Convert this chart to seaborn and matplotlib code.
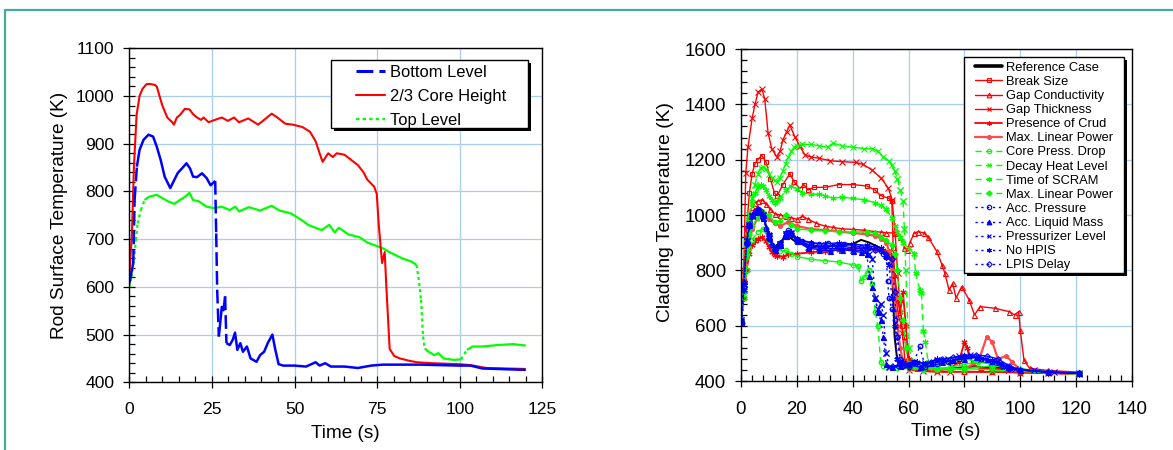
import numpy as np
import pandas as pd
import matplotlib
matplotlib.use("Agg")
import matplotlib.pyplot as plt
import seaborn as sns
from matplotlib.lines import Line2D
from matplotlib.patches import Rectangle
from matplotlib.ticker import MultipleLocator

# ---------------- left panel data ----------------
left_labels = ["Bottom Level", "2/3 Core Height", "Top Level"]

bot_t = [0, 1.2, 1.6, 2.3, 3.1, 4.3, 5.8, 7.2, 8.3, 9.5, 10.7, 12.4, 13.6, 14.7, 15.9, 17.3, 18.4, 19.3,
         20.5, 22, 23.4, 24.6, 25.4, 26, 26.3, 26.6, 27.1, 27.6, 28, 28.5, 29, 29.4, 30.4, 31.3, 32, 32.7,
         33.6, 34.4, 35.6, 36.7, 38.5, 39.6, 40.8, 41.9, 43.3, 44.2, 45.2, 46.6, 50, 53.5, 56.4, 57.6, 59.3,
         61, 65.1, 69.2, 73.2, 76.7, 88.3, 99.9, 103.3, 106.8, 120]
bot_v = [607, 650, 782, 852, 887, 908, 919, 915, 894, 866, 831, 807, 824, 839, 848, 859, 848, 831,
         830, 838, 828, 813, 818, 822, 712, 594, 496, 530, 558, 551, 580, 482, 478, 489, 504, 468,
         482, 464, 475, 450, 443, 457, 464, 482, 500, 468, 438, 435, 435, 433, 442, 435, 440,
         433, 433, 430, 435, 437, 437, 435, 435, 429, 426]

mid_t = [0, 0.8, 1.4, 2.2, 3.1, 4, 5.2, 6.5, 7.8, 8.3, 10, 11.5, 13, 13.5, 14.4, 15.3, 16.8, 18.2, 19.3,
         20.5, 21.7, 22.5, 24, 25.1, 28, 29.8, 31.7, 33.2, 36, 39, 40.8, 43.1, 44.8, 47.2, 49.5, 52.4,
         54.7, 56.4, 57.6, 58.5, 60.2, 61.6, 62.8, 65.1, 66.8, 69.2, 70.9, 72, 74.1, 74.9, 75.5, 76.5,
         77.3, 77.8, 78.8, 80.2, 81.9, 84.8, 87.1, 91.8, 99.9, 103.3, 108, 120]
mid_v = [621, 712, 852, 960, 1000, 1015, 1025, 1025, 1023, 1020, 980, 955, 945, 940, 955, 960, 973, 972, 962,
         955, 950, 955, 945, 948, 955, 948, 955, 945, 953, 940, 950, 963, 955, 942, 940, 935,
         925, 905, 880, 862, 880, 872, 880, 877, 868, 855, 840, 825, 810, 795, 730, 650,
         673, 600, 470, 455, 450, 445, 442, 440, 438, 436, 430, 428]

top_t = [0, 0.7, 1.4, 2, 2.5, 3.5, 4.6, 6, 8.3, 10, 11.8, 13.6, 15.3, 16.7, 18.2, 19.3, 21.1, 23.4, 25.7,
         28, 30.4, 32.1, 33.2, 36.1, 39.6, 43.1, 45.4, 48.9, 52.4, 54.1, 58.2, 60.5, 62.2, 63.4, 66.3,
         69.7, 72, 76.7, 79, 82.5, 85.4, 86.9, 87.5, 88.3, 88.9, 89.4, 90.6, 92.3, 93.5, 95.2, 98.1,
         100.4, 102.2, 103.9, 106.8, 111.4, 116.1, 120]
top_v = [600, 621, 656, 698, 733, 761, 782, 789, 793, 786, 779, 774, 782, 788, 797, 782, 779, 768, 765,
         768, 761, 768, 758, 767, 760, 770, 760, 754, 739, 730, 719, 730, 714, 724, 710,
         704, 693, 681, 672, 660, 653, 646, 621, 573, 496, 471, 464, 457, 461, 450, 447,
         448, 468, 475, 475, 478, 480, 477]

# ---------------- right panel data ----------------
right_labels = ["Reference Case", "Break Size", "Gap Conductivity", "Gap Thickness", "Presence of Crud",
                "Max. Linear Power", "Core Press. Drop", "Decay Heat Level", "Time of SCRAM",
                "Max. Linear Power", "Acc. Pressure", "Acc. Liquid Mass", "Pressurizer Level",
                "No HPIS", "LPIS Delay"]

ref_t = [0, 1, 2, 3, 4, 5, 6, 7, 8, 9, 10, 12, 14, 16, 18, 20, 25, 30, 35, 40, 43, 46, 49,
         51, 53, 54, 54.5, 55, 56, 58, 60, 65, 70, 80, 90, 100, 110, 121]
ref_v = [620, 720, 850, 940, 985, 1005, 1012, 1010, 995, 960, 920, 885, 900, 925, 915, 900, 890, 885, 890,
         895, 910, 900, 885, 875, 860, 820, 700, 560, 470, 450, 445, 440, 440, 450, 450, 440, 432, 428]

bs_t = [0, 1, 2, 3, 4, 5, 6, 7.5, 9, 10.5, 12, 13, 15, 17.5, 19, 21, 22.5, 24, 26, 30,
        35, 40, 45, 48, 50, 53, 54, 54.5, 55.5, 56.5, 57.5, 58.5, 60, 63, 70, 80, 90, 100, 110, 121]
bs_v = [620, 760, 950, 1080, 1150, 1185, 1200, 1215, 1190, 1130, 1080, 1070, 1110, 1150, 1120, 1095, 1110,
        1090, 1100, 1100, 1110, 1110, 1105, 1090, 1070, 1060, 1050, 880, 700, 630,
        600, 560, 470, 445, 435, 432, 432, 430, 428, 425]

gc_t = [0, 1, 2, 3, 4, 5, 6, 7.5, 9, 10.5, 12, 14, 16, 18, 20, 22, 24, 27, 30, 33,
        36, 40, 44, 48, 50, 52, 55, 57, 58.5, 59.5, 60.5, 62, 63.5, 65.5, 67, 70, 72, 73, 74.5, 75.8,
        77, 79, 81.7, 83.6, 85.6, 90.8, 96, 98, 99.4, 100, 101.3, 103.3, 110, 121]
gc_v = [620, 800, 930, 1000, 1030, 1045, 1050, 1055, 1040, 1020, 1005, 1000, 995, 990, 985, 995, 985, 970,
        960, 955, 950, 948, 945, 940, 938, 936, 935, 920, 880, 875, 900, 935, 940, 935, 920, 870, 820,
        789, 729, 753, 700, 741, 693, 639, 669, 663, 651, 639, 651, 584, 476, 446, 438, 432]

gt_t = [0, 1, 1.7, 2.5, 4, 5, 6.1, 7.5, 8.5, 9.7, 11, 12.8, 14, 15, 16.3, 17.5, 19.3, 21, 22.9, 25,
        28, 32, 36, 41, 43.6, 46.9, 50.2, 52.8, 54.1, 55.2, 56.1, 56.8, 57.8, 58.7, 60, 65, 70, 75, 80, 90,
        100, 110, 121]
gt_v = [620, 800, 1152, 1246, 1350, 1400, 1444, 1455, 1420, 1296, 1240, 1210, 1230, 1271, 1300, 1325, 1282,
        1250, 1217, 1210, 1205, 1196, 1193, 1190, 1183, 1163, 1133, 1096, 1054, 934, 789, 693, 572, 476,
        440, 435, 432, 432, 435, 433, 430, 428, 425]

pc_t = [0, 1, 2, 3, 4, 5, 6, 7.5, 9, 10, 11, 12, 13, 15, 17, 20, 25, 30, 35, 40,
        45, 48, 51, 53, 54, 55, 56, 57, 58, 59, 60, 62, 65, 70, 75, 78, 80, 81, 83, 86, 90, 95, 100, 110, 121]
pc_v = [620, 700, 800, 860, 890, 905, 915, 920, 905, 885, 865, 855, 852, 850, 858, 860, 865, 870, 875, 878,
        880, 878, 872, 868, 850, 780, 700, 650, 720, 600, 480, 450, 445, 440, 445, 470, 540, 520, 460, 445,
        445, 440, 435, 430, 425]

mr_t = [0, 2, 4, 6, 8, 10, 12, 14, 17, 20, 25, 30, 35, 40, 45, 48, 50, 52, 53, 54,
        55, 56, 57, 58, 60, 70, 80, 85, 88, 90, 92, 95, 97, 100, 110, 121]
mr_v = [620, 850, 950, 990, 1000, 985, 970, 960, 975, 960, 950, 945, 940, 935, 930, 925, 915, 900, 870, 800,
        700, 600, 520, 470, 450, 440, 445, 470, 560, 540, 480, 490, 470, 440, 430, 425]

cp_t = [0, 1, 2, 3, 4, 6, 8, 10, 12, 14, 16, 18, 20, 25, 30, 35, 40, 42, 43, 44,
        45, 46, 47, 48, 49, 50, 51, 53, 56, 60, 65, 70, 75, 80, 85, 90, 95, 100, 110, 121]
cp_v = [620, 700, 800, 880, 910, 940, 950, 910, 880, 870, 872, 860, 850, 840, 835, 830, 820, 815, 760, 775,
        790, 800, 750, 650, 600, 470, 455, 450, 448, 445, 440, 445, 450, 460, 470, 460, 450, 440, 432, 428]

dh_t = [0, 1, 2, 3, 4, 5, 6, 7, 8, 9, 10, 11, 12, 13, 14, 15, 16, 17, 18, 19,
        20, 22, 25, 28, 31, 33, 36, 40, 44, 47, 49, 51, 53, 54, 55, 56, 57, 58, 58.5, 59,
        60, 62, 65, 70, 80, 90, 100, 110, 121]
dh_v = [620, 750, 900, 1000, 1060, 1110, 1150, 1170, 1175, 1165, 1150, 1135, 1125, 1120, 1135, 1160, 1185,
        1210, 1230, 1245, 1250, 1255, 1255, 1250, 1245, 1260, 1250, 1245, 1240, 1240, 1230, 1210, 1195,
        1180, 1160, 1130, 1090, 1050, 950, 800, 520, 460, 450, 445, 445, 440, 435, 430, 425]

ts_t = [0, 1, 2, 3, 4, 5, 6, 7, 8, 9, 10, 11, 12, 13, 14, 16, 18, 20, 22, 25,
        28, 30, 33, 36, 40, 44, 48, 50, 52, 54, 55, 56, 57, 58, 60, 62, 62.5, 64, 64.6, 65.3,
        66, 67, 68, 70, 75, 80, 90, 100, 110, 121]
ts_v = [620, 720, 880, 980, 1040, 1080, 1100, 1110, 1105, 1090, 1070, 1055, 1045, 1050, 1060, 1090, 1105,
        1095, 1080, 1075, 1075, 1070, 1060, 1065, 1060, 1055, 1045, 1035, 1020, 990, 960, 940, 920, 900,
        880, 860, 790, 730, 717, 580, 540, 470, 450, 445, 440, 445, 455, 445, 432, 428]

mg_t = [0, 1, 2, 3, 4, 6, 8, 10, 12, 14, 16, 18, 20, 25, 30, 35, 40, 45, 48, 50,
        52, 54, 55, 56, 57, 58, 59, 60, 62, 65, 70, 75, 80, 85, 90, 100, 110, 121]
mg_v = [620, 720, 860, 930, 960, 990, 1010, 1000, 975, 980, 1000, 965, 950, 945, 942, 940, 938, 940, 935, 920,
        910, 890, 860, 800, 700, 620, 520, 460, 450, 445, 455, 470, 480, 470, 460, 440, 432, 428]

ap_t = [0, 0.5, 1, 2, 3, 4, 5, 6, 7, 8, 9, 10, 11, 12, 14, 16, 17, 18, 20, 22,
        25, 28, 31, 34, 37, 40, 43, 46, 48, 50, 51, 52, 52.5, 53, 54, 55, 56, 57, 58, 60,
        62, 64, 66, 70, 74, 78, 82, 86, 90, 93, 96, 100, 110, 121]
ap_v = [620, 610, 740, 900, 960, 995, 1015, 1020, 1015, 990, 950, 915, 890, 880, 900, 935, 945, 935, 915, 905,
        900, 895, 900, 890, 895, 890, 885, 880, 875, 870, 860, 850, 760, 700, 660, 620, 560, 480, 455, 450,
        470, 525, 450, 460, 470, 480, 490, 480, 470, 460, 445, 440, 432, 428]

al_t = [0, 1, 2, 3, 4, 5, 6, 7, 8, 10, 12, 14, 16, 18, 20, 24, 28, 32, 36, 40,
        43, 45, 46, 47, 48, 49, 50, 51, 52, 54, 57, 60, 64, 68, 72, 76, 80, 84, 88, 92, 96, 100, 110, 121]
al_v = [615, 760, 910, 970, 1000, 1010, 1015, 1010, 990, 920, 875, 890, 925, 930, 905, 880, 875, 870, 875, 870,
        865, 860, 780, 740, 700, 650, 620, 560, 460, 450, 455, 460, 450, 465, 470, 475, 480, 485, 480, 470,
        450, 440, 432, 428]

pl_t = [0, 1, 2, 3, 4, 6, 8, 10, 12, 14, 16, 18, 20, 24, 28, 32, 36, 40, 44, 46,
        47, 48, 49, 50, 51, 52, 53, 55, 58, 62, 66, 70, 74, 78, 82, 86, 90, 94, 98, 105, 112, 121]
pl_v = [620, 750, 905, 965, 995, 1015, 1000, 925, 885, 895, 930, 935, 910, 885, 880, 878, 880, 875, 870, 860,
        840, 700, 660, 680, 640, 500, 450, 455, 460, 470, 465, 475, 480, 490, 495, 480, 470, 455, 445, 438,
        432, 428]

nh_t = [0, 1, 2, 3, 4, 6, 8, 10, 12, 14, 16, 18, 20, 25, 30, 35, 40, 45, 48, 50,
        52, 53, 54, 55, 56, 57, 58, 60, 63, 66, 70, 75, 80, 85, 90, 95, 100, 110, 121]
nh_v = [620, 730, 900, 965, 1000, 1020, 1005, 930, 880, 900, 930, 940, 915, 900, 895, 900, 895, 890, 885, 880,
        850, 820, 700, 600, 480, 460, 470, 455, 470, 460, 480, 470, 490, 485, 475, 450, 440, 432, 428]

ld_t = [0, 1, 2, 3, 4, 6, 8, 10, 12, 14, 16, 18, 20, 25, 30, 35, 40, 45, 48, 50,
        52, 54, 55, 56, 57, 58, 60, 62, 65, 68, 72, 76, 80, 84, 88, 92, 96, 100, 110, 121]
ld_v = [620, 740, 895, 960, 995, 1012, 995, 925, 875, 890, 925, 935, 910, 890, 885, 888, 882, 878, 875, 870,
        860, 840, 720, 560, 470, 455, 450, 465, 455, 470, 480, 485, 490, 495, 490, 480, 455, 440, 432, 428]

right_t = [ref_t, bs_t, gc_t, gt_t, pc_t, mr_t, cp_t, dh_t, ts_t, mg_t, ap_t, al_t, pl_t, nh_t, ld_t]
right_v = [ref_v, bs_v, gc_v, gt_v, pc_v, mr_v, cp_v, dh_v, ts_v, mg_v, ap_v, al_v, pl_v, nh_v, ld_v]

# ---------------- styling ----------------
RED, GREEN, BLUE = "#ff0000", "#00ff00", "#0000ff"
GRID = "#a9cdf2"
ASTER = (6, 2, 0)
GDASH = (0, (4.5, 3.0))
BDOT = (0, (1.6, 2.6))
# color, lw, dash, marker, markersize, filled
right_styles = [
    ("black", 1.4, None, None, 0, True),
    (RED, 1.0, None, "s", 3.4, False),
    (RED, 1.0, None, "^", 3.6, False),
    (RED, 1.0, None, "x", 4.0, True),
    (RED, 1.3, None, ASTER, 4.4, True),
    ("#ff4a4a", 1.6, None, "o", 2.8, True),
    (GREEN, 1.0, GDASH, "o", 3.2, False),
    (GREEN, 1.0, GDASH, "x", 4.0, True),
    (GREEN, 1.0, GDASH, ASTER, 4.4, True),
    (GREEN, 1.0, GDASH, "P", 3.4, True),
    (BLUE, 1.0, BDOT, "o", 3.2, False),
    (BLUE, 1.0, BDOT, "^", 3.6, True),
    (BLUE, 1.0, BDOT, "x", 4.0, True),
    (BLUE, 1.0, BDOT, ASTER, 4.4, True),
    (BLUE, 1.0, BDOT, "D", 2.8, False),
]

sns.set_theme(style="white")
plt.rcParams["font.family"] = ["Liberation Sans", "DejaVu Sans"]
plt.rcParams.update({"text.color": "black", "axes.labelcolor": "black", "xtick.color": "black",
                     "ytick.color": "black", "axes.edgecolor": "black"})

W, H = 1173, 450
fig = plt.figure(figsize=(W / 100, H / 100), dpi=100, facecolor="white")


def fx(px):
    return px / W


def fy(py):
    return 1 - py / H


ax1 = fig.add_axes([fx(129.3), fy(382.3), (542.3 - 129.3) / W, (382.3 - 48.3) / H])
ax2 = fig.add_axes([fx(741), fy(381), (1132 - 741) / W, (381 - 49) / H])


def setup(ax, xlim, xmaj, xmin, ylim, ymaj, ymin, fs):
    ax.set_facecolor("white")
    ax.set_xlim(*xlim)
    ax.set_ylim(*ylim)
    ax.xaxis.set_major_locator(MultipleLocator(xmaj))
    ax.xaxis.set_minor_locator(MultipleLocator(xmin))
    ax.yaxis.set_major_locator(MultipleLocator(ymaj))
    ax.yaxis.set_minor_locator(MultipleLocator(ymin))
    ax.grid(True, which="major", color=GRID, lw=0.9)
    ax.grid(False, which="minor")
    ax.set_axisbelow(True)
    for s in ax.spines.values():
        s.set_visible(True)
        s.set_color("black")
        s.set_linewidth(1.0)
    ax.tick_params(which="major", direction="inout", length=8.6, width=0.9, labelsize=fs,
                   bottom=True, left=True, top=False, right=False, color="black")
    ax.tick_params(axis="x", which="major", pad=10.2)
    ax.tick_params(axis="y", which="major", pad=6.3)
    ax.tick_params(which="minor", direction="in", length=4.3, width=0.9,
                   bottom=True, left=True, top=False, right=False, color="black")


setup(ax1, (0, 125), 25, 5, (400, 1100), 100, 20, 12.6)
setup(ax2, (0, 140), 20, 4, (400, 1600), 200, 40, 13.4)


def draw(ax, t, v, color, lw, dash=None, thresh=12, marker=None, ms=3.0, filled=True):
    """Excel-like rendering: the dash pattern restarts on every data segment,
    so only steep (long on screen) segments show as dashed."""
    t = np.asarray(t, float)
    v = np.asarray(v, float)
    assert len(t) == len(v), (len(t), len(v))
    pts = ax.transData.transform(np.column_stack([t, v]))
    dy = np.abs(np.diff(pts[:, 1]))
    solid_rows, dash_rows = [], []
    unit = 0
    prev_solid = False
    for i in range(len(t) - 1):
        if dash is not None and dy[i] > thresh:
            unit += 1
            dash_rows += [(t[i], v[i], unit), (t[i + 1], v[i + 1], unit)]
            prev_solid = False
        else:
            if not prev_solid:
                unit += 1
                solid_rows.append((t[i], v[i], unit))
            solid_rows.append((t[i + 1], v[i + 1], unit))
            prev_solid = True
    kws = dict(color=color, linewidth=lw, dash_capstyle="butt", solid_capstyle="butt",
               solid_joinstyle="round")
    if marker is not None:
        kws.update(marker=marker, markersize=ms, markeredgewidth=0.8, markeredgecolor=color,
                   markerfacecolor=color if filled else "none")
    else:
        kws.update(marker="", markeredgewidth=0, markeredgecolor=color)
    for rows, ls in ((solid_rows, "-"), (dash_rows, dash)):
        if not rows:
            continue
        df = pd.DataFrame(rows, columns=["t", "v", "u"])
        sns.lineplot(data=df, x="t", y="v", units="u", estimator=None, sort=False, ax=ax,
                     legend=False, linestyle=ls, **kws)


# left panel
BOT_DASH = (0, (5.5, 2.0))
TOP_DOT = (0, (1.4, 1.4))
draw(ax1, top_t, top_v, GREEN, 1.6, dash=TOP_DOT, thresh=9)
draw(ax1, mid_t, mid_v, RED, 1.5)
draw(ax1, bot_t, bot_v, BLUE, 1.8, dash=BOT_DASH, thresh=25)

# right panel
for tt, vv, st in zip(right_t, right_v, right_styles):
    c, lw, dsh, mk, ms, fill = st
    draw(ax2, tt, vv, c, lw, dash=dsh, thresh=8, marker=mk, ms=ms, filled=fill)

# labels
ax1.set_xlabel("Time (s)", fontsize=13.7)
ax1.set_ylabel("Rod Surface Temperature (K)", fontsize=13.7)
ax1.xaxis.set_label_coords((345.6 - 129.3) / 413, (382.3 - 434) / 334)
ax1.yaxis.set_label_coords((59 - 129.3) / 413, 0.5)
ax2.set_xlabel("Time (s)", fontsize=13.8)
ax2.set_ylabel("Cladding Temperature (K)", fontsize=13.9)
ax2.xaxis.set_label_coords((945.8 - 741) / 391, (381 - 431) / 332)
ax2.yaxis.set_label_coords((666 - 741) / 391, (381 - 211.5) / 332)
for lab in (ax1.xaxis.label, ax2.xaxis.label, ax1.yaxis.label, ax2.yaxis.label):
    lab.set_va("center")


# legend boxes with shadow (figure level)
def legend_box(x0, y0, x1, y1):
    sh = Rectangle((fx(x0 + 3), fy(y1 + 3)), (x1 - x0) / W, (y1 - y0) / H, transform=fig.transFigure,
                   facecolor="black", edgecolor="black", lw=0, zorder=3)
    bx = Rectangle((fx(x0), fy(y1)), (x1 - x0) / W, (y1 - y0) / H, transform=fig.transFigure,
                   facecolor="white", edgecolor="black", lw=1.0, zorder=3.1)
    fig.add_artist(sh)
    fig.add_artist(bx)


legend_box(331, 60, 528, 128)
h_left = [Line2D([], [], color=BLUE, lw=2.2, linestyle=BOT_DASH, dash_capstyle="butt"),
          Line2D([], [], color=RED, lw=1.5),
          Line2D([], [], color=GREEN, lw=1.7, linestyle=TOP_DOT, dash_capstyle="butt")]
lg1 = fig.legend(h_left, left_labels, loc="upper left", bbox_to_anchor=(fx(356), fy(65.2)),
                 bbox_transform=fig.transFigure, frameon=False, fontsize=11.9, handlelength=1.75,
                 handletextpad=0.3, borderpad=0, borderaxespad=0, labelspacing=0.54)
lg1.set_zorder(5)

legend_box(964, 57, 1123.5, 273)
h_right = []
for st in right_styles:
    c, lw, dsh, mk, ms, fill = st
    kw = dict(color=c, lw=lw if c != "black" else 2.6, linestyle=dsh if dsh else "-", dash_capstyle="butt")
    if mk is not None:
        kw.update(marker=mk, markersize=min(ms, 3.4), markeredgewidth=0.8, markeredgecolor=c,
                  markerfacecolor=c if fill else "none")
    h_right.append(Line2D([], [], **kw))
lg2 = fig.legend(h_right, right_labels, loc="upper left", bbox_to_anchor=(fx(975), fy(61.8)),
                 bbox_transform=fig.transFigure, frameon=False, fontsize=9.3, handlelength=2.1,
                 handletextpad=0.27, borderpad=0, borderaxespad=0, labelspacing=0.16, numpoints=1)
lg2.set_zorder(5)

# outer teal frame
TEAL = "#45a99c"
fig.add_artist(Line2D([fx(5), 1.0], [fy(10), fy(10)], transform=fig.transFigure, color=TEAL, lw=1.6))
fig.add_artist(Line2D([fx(5), fx(5)], [fy(10), 0.0], transform=fig.transFigure, color=TEAL, lw=1.6))

fig.savefig("out.png", dpi=100, facecolor="white")
